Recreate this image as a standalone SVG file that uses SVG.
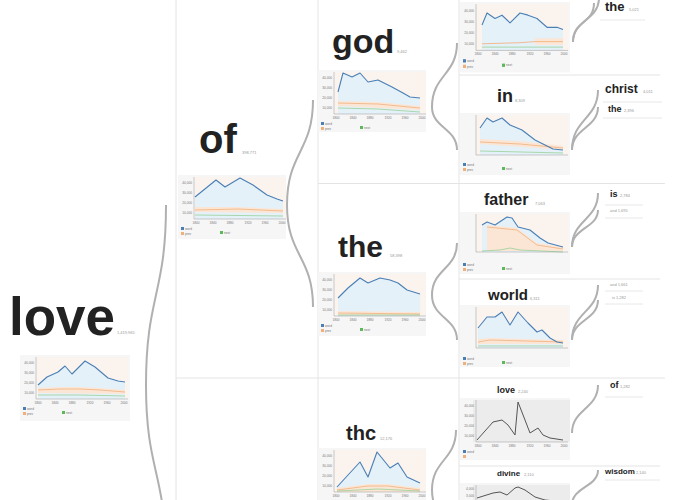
<svg xmlns="http://www.w3.org/2000/svg" xmlns:xlink="http://www.w3.org/1999/xlink" width="680" height="500" viewBox="0 0 680 500">
<style>
.bg{fill:#f6f6f6}
.plot{fill:#fbf3ee}
.gplot{fill:#ececec}
.barea{fill:#e5f1f9}
.band{fill:#fbe6d6}
.bl{fill:none;stroke:#4a7fb5;stroke-width:1.1;stroke-linejoin:round}
.gl{fill:none;stroke:#555;stroke-width:1;stroke-linejoin:round}
.or{fill:none;stroke:#f0b07c;stroke-width:0.8}
.gr{fill:none;stroke:#98d095;stroke-width:0.8}
.ax{fill:none;stroke:#9a9a9a;stroke-width:0.5}
.tk{font-family:"Liberation Sans",Arial,sans-serif;font-size:3.2px;fill:#777}
.w{font-family:"Liberation Sans",Arial,sans-serif;font-weight:bold;fill:#222}
.sub{font-family:"Liberation Sans",Arial,sans-serif;font-size:4px;fill:#999}
.div{stroke:#e4e4e4;stroke-width:1;fill:none}
.sep{stroke:#e2e2e2;stroke-width:0.8;fill:none}
.link{fill:none;stroke:#b0b0b0;stroke-width:2}
</style>
<defs>
<g id="axes">
<path class="ax" d="M16,2V44H108"/>
<g class="tk" text-anchor="end"><text x="14" y="9">40,000</text><text x="14" y="19">30,000</text><text x="14" y="29">20,000</text><text x="14" y="39">10,000</text></g>
<g class="tk" text-anchor="middle"><text x="18" y="48.5">1800</text><text x="35" y="48.5">1840</text><text x="52" y="48.5">1880</text><text x="70" y="48.5">1920</text><text x="87" y="48.5">1960</text><text x="104" y="48.5">2000</text></g>
</g>
<g id="leg">
<rect x="3" y="52" width="3" height="3" fill="#4a7fb5"/><text class="tk" x="7" y="54.6">word</text>
<rect x="3" y="57" width="3" height="3" fill="#f0b07c"/><text class="tk" x="7" y="59.6">prev</text>
<rect x="42" y="56" width="3" height="3" fill="#5cb85c"/><text class="tk" x="46" y="58.6">next</text>
</g>
<g id="leg2">
<rect x="3" y="52" width="3" height="3" fill="#4a7fb5"/><text class="tk" x="7" y="54.6">word</text>
<rect x="3" y="57" width="3" height="3" fill="#f0b07c"/>
</g>
</defs>

<g id="grid">
<line class="div" x1="176" y1="0" x2="176" y2="500"/>
<line class="div" x1="318" y1="0" x2="318" y2="500"/>
<line class="div" x1="459" y1="0" x2="459" y2="500" stroke="#efefef"/>
<line class="div" x1="318" y1="183.5" x2="665" y2="183.5"/>
<line class="div" x1="176" y1="378" x2="665" y2="378"/>
<line class="div" x1="459" y1="75" x2="660" y2="75"/>
<line class="div" x1="459" y1="279" x2="660" y2="279"/>
<line class="div" x1="459" y1="466" x2="660" y2="466"/>
</g>

<g id="connectors">
<path class="link" d="M166,205 C166,295 146,295 146,385 C146,472 166,472 166,560"/>
<path class="link" d="M313,100 C313,152 287,152 287,205 C287,256 313,256 313,307"/>
<path class="link" d="M457,43 C457,75 432,75 432,107 C432,128 457,128 457,150"/>
<path class="link" d="M457,243 C457,269 432,269 432,295 C432,318 457,318 457,340"/>
<path class="link" d="M456,430 C456,460 432,460 432,490 C432,520 456,520 456,550"/>
<path class="link" d="M573,42 C573,20 594,24 594,3"/>
<path class="link" d="M573,42 C573,20 599,20 599,-2"/>
<path class="link" d="M572,150 C572,119 598,119 598,90"/>
<path class="link" d="M572,150 C572,128 598,128 598,107"/>
<path class="link" d="M572,247 C572,220 598,220 598,193"/>
<path class="link" d="M572,247 C572,228 598,228 598,210"/>
<path class="link" d="M572,340 C572,312 598,312 598,285"/>
<path class="link" d="M572,340 C572,320 598,320 598,300"/>
<path class="link" d="M572,433 C572,409 598,409 598,385"/>
<path class="link" d="M572,505 C572,487 598,487 598,470"/>
</g>

<g id="n-love">
<text class="w" x="9" y="335" font-size="53">love</text>
<text class="sub" x="117" y="334">1,419,965</text>
<g transform="translate(20,355)">
<rect class="bg" width="110" height="66"/>
<rect class="plot" x="16" y="2" width="92" height="42"/>
<polygon class="barea" points="18,44 18,30 27,22 38,17 45,11 52,19 65,6 75,12 88,23 98,26 105,27 105,44"/>
<polygon class="band" points="18,33 40,32 60,32 80,33 105,35 105,39 18,38"/>
<polyline class="or" points="18,35 40,34 60,34 80,35 105,37"/>
<polyline class="gr" points="18,40 60,40 105,41"/>
<polyline class="bl" points="18,30 27,22 38,17 45,11 52,19 65,6 75,12 88,23 98,26 105,27"/>
<use xlink:href="#axes"/><use xlink:href="#leg"/>
</g>
</g>

<g id="n-of">
<text class="w" x="199" y="153" font-size="40">of</text>
<text class="sub" x="242" y="154">398,771</text>
<g transform="translate(178,175)">
<rect class="bg" width="108" height="64"/>
<rect class="plot" x="16" y="2" width="92" height="42"/>
<polygon class="barea" points="17,44 17,22 38,5 47,12 62,3 75,10 89,20 99,24 105,26 105,44"/>
<polygon class="band" points="17,32 60,32 105,34 105,38 17,37"/>
<polyline class="or" points="17,35 60,34 105,36"/>
<polyline class="gr" points="17,40 105,41"/>
<polyline class="bl" points="17,22 38,5 47,12 62,3 75,10 89,20 99,24 105,26"/>
<use xlink:href="#axes"/><use xlink:href="#leg"/>
</g>
</g>

<g id="n-god">
<text class="w" x="332" y="53" font-size="34">god</text>
<text class="sub" x="397" y="53">9,462</text>
<g transform="translate(318,70)">
<rect class="bg" width="108" height="62"/>
<rect class="plot" x="16" y="2" width="92" height="42"/>
<polygon class="barea" points="20,44 20,22 25,3 34,7 42,3 50,12 60,10 74,17 85,23 92,27 102,28 102,44"/>
<polygon class="band" points="20,31 60,32 102,36 102,40 20,36"/>
<polyline class="or" points="20,33 60,34 102,38"/>
<polyline class="gr" points="20,38 60,39 102,42"/>
<polyline class="bl" points="20,22 25,3 34,7 42,3 50,12 60,10 74,17 85,23 92,27 102,28"/>
<use xlink:href="#axes"/><use xlink:href="#leg"/>
</g>
</g>

<g id="n-the">
<text class="w" x="338" y="257" font-size="30">the</text>
<text class="sub" x="390" y="257">58,398</text>
<g transform="translate(318,272)">
<rect class="bg" width="108" height="64"/>
<rect class="plot" x="16" y="2" width="92" height="42"/>
<polygon class="barea" points="20,44 20,26 30,16 42,6 50,11 62,6 72,8 80,11 89,18 102,22 102,44"/>
<polygon class="band" points="20,39 102,40 102,43 20,43"/>
<polyline class="or" points="20,41 102,42"/>
<polyline class="gr" points="20,43 102,43"/>
<polyline class="bl" points="20,26 30,16 42,6 50,11 62,6 72,8 80,11 89,18 102,22"/>
<use xlink:href="#axes"/><use xlink:href="#leg"/>
</g>
</g>

<g id="n-thc">
<text class="w" x="346" y="440" font-size="20">thc</text>
<text class="sub" x="380" y="440">12,176</text>
<g transform="translate(318,448)">
<rect class="bg" width="108" height="64"/>
<rect class="plot" x="16" y="2" width="92" height="42"/>
<polygon class="barea" points="19,44 19,39 42,14 50,29 59,4 72,20 80,15 89,29 102,35 102,44"/>
<polygon class="band" points="19,40 50,36 70,36 102,40 102,44 19,44"/>
<polyline class="or" points="19,42 50,38 70,38 102,42"/>
<polyline class="gr" points="19,43 60,41 102,43"/>
<polyline class="bl" points="19,39 42,14 50,29 59,4 72,20 80,15 89,29 102,35"/>
<use xlink:href="#axes"/>
</g>
</g>

<g id="n-top">
<g transform="translate(460,2) scale(1,1.1)">
<rect class="bg" width="110" height="64"/>
<rect class="plot" x="16" y="2" width="92" height="42"/>
<polygon class="barea" points="22,44 22,21 27,10 35,15 42,12 50,19 60,10 68,12 77,15 87,23 97,23 103,25 103,44"/>
<polygon class="band" points="75,33 103,33 103,39 75,39"/>
<polyline class="or" points="22,38 60,37 75,36 103,36"/>
<polyline class="gr" points="22,41 103,41"/>
<polyline class="bl" points="22,21 27,10 35,15 42,12 50,19 60,10 68,12 77,15 87,23 97,23 103,25"/>
<use xlink:href="#axes"/><use xlink:href="#leg"/>
</g>
</g>

<g id="n-in">
<text class="w" x="497" y="102" font-size="18">in</text>
<text class="sub" x="515" y="102">8,309</text>
<g transform="translate(460,113)">
<rect class="bg" width="110" height="62"/>
<rect class="plot" x="16" y="2" width="92" height="40"/>
<polygon class="barea" points="20,42 20,15 27,5 33,9 42,5 50,12 62,17 75,27 85,32 93,36 103,37 103,42"/>
<polygon class="band" points="20,26 60,28 103,33 103,37 20,31"/>
<polyline class="or" points="20,29 60,31 103,35"/>
<polyline class="gr" points="20,38 103,40"/>
<polyline class="bl" points="20,15 27,5 33,9 42,5 50,12 62,17 75,27 85,32 93,36 103,37"/>
<path class="ax" d="M16,2V42H108"/>
<use xlink:href="#leg" transform="translate(0,-2)"/>
</g>
</g>

<g id="n-father">
<text class="w" x="484" y="205" font-size="16">father</text>
<text class="sub" x="535" y="205">7,063</text>
<g transform="translate(460,212)">
<rect class="bg" width="110" height="62"/>
<rect class="plot" x="16" y="2" width="92" height="38"/>
<polygon class="barea" points="22,40 22,13 27,10 35,13 47,5 52,6 58,15 70,18 80,26 88,31 103,35 103,40"/>
<polygon class="band" points="27,13 57,16 77,31 103,35 103,39 27,39"/>
<polyline class="or" points="27,15 57,18 77,33 103,37"/>
<polyline class="gr" points="22,39 40,38 50,36 60,38 103,40"/>
<polyline class="bl" points="22,13 27,10 35,13 47,5 52,6 58,15 70,18 80,26 88,31 103,35"/>
<path class="ax" d="M16,2V40H108"/>
<use xlink:href="#leg" transform="translate(0,-1)"/>
</g>
</g>

<g id="n-world">
<text class="w" x="488" y="300" font-size="15">world</text>
<text class="sub" x="530" y="300">6,311</text>
<g transform="translate(460,305)">
<rect class="bg" width="110" height="62"/>
<rect class="plot" x="16" y="2" width="92" height="41"/>
<polygon class="barea" points="18,43 18,23 27,12 35,12 42,7 50,20 58,7 68,18 77,27 82,25 90,33 97,37 103,38 103,43"/>
<polygon class="band" points="18,34 30,33 103,35 103,39 18,39"/>
<polyline class="or" points="18,37 30,35 103,37"/>
<polyline class="gr" points="18,41 103,41"/>
<polyline class="bl" points="18,23 27,12 35,12 42,7 50,20 58,7 68,18 77,27 82,25 90,33 97,37 103,38"/>
<path class="ax" d="M16,2V43H108"/>
<use xlink:href="#leg"/>
</g>
</g>

<g id="n-love2">
<text class="w" x="497" y="393" font-size="9">love</text>
<text class="sub" x="518" y="393">2,240</text>
<g transform="translate(460,398)">
<rect class="bg" width="110" height="62"/>
<rect class="gplot" x="13" y="2" width="97" height="42"/>
<polyline class="gl" points="17,42 33,24 42,22 48,27 55,37 58,4 65,22 70,35 78,30 83,37 90,40 103,42"/>
<use xlink:href="#axes"/><use xlink:href="#leg2"/>
</g>
</g>

<g id="n-divine">
<text class="w" x="497" y="476" font-size="8">divine</text>
<text class="sub" x="524" y="476">2,110</text>
<g transform="translate(460,483)">
<rect class="bg" width="110" height="30"/>
<rect class="gplot" x="13" y="2" width="97" height="28"/>
<polyline class="gl" points="17,15 33,10 40,9 47,12 55,5 58,4 65,7 75,14 85,17 95,18"/>
<path class="ax" d="M16,2V30"/>
<g class="tk" text-anchor="end"><text x="14" y="7">4,000</text><text x="14" y="14">3,000</text></g>
</g>
</g>

<g id="n-c-the">
<text class="w" x="605" y="11" font-size="13">the</text>
<text class="sub" x="629" y="11">5,021</text>
<line class="sep" x1="600" y1="20" x2="645" y2="20"/>
</g>
<g id="n-c-christ">
<text class="w" x="605" y="93" font-size="12">christ</text>
<text class="sub" x="643" y="93">4,011</text>
<line class="sep" x1="603" y1="102" x2="662" y2="102"/>
</g>
<g id="n-c-the2">
<text class="w" x="608" y="112" font-size="9">the</text>
<text class="sub" x="624" y="112">2,396</text>
<line class="sep" x1="603" y1="118" x2="662" y2="118"/>
</g>
<g id="n-c-is">
<text class="w" x="610" y="197" font-size="9">is</text>
<text class="sub" x="620" y="197">2,784</text>
<line class="sep" x1="605" y1="205" x2="643" y2="205"/>
</g>
<g id="n-c-and">
<text class="sub" x="610" y="212">and 1,695</text>
<line class="sep" x1="605" y1="218" x2="643" y2="218"/>
</g>
<g id="n-c-w1">
<text class="sub" x="610" y="286">and 1,661</text>
<line class="sep" x1="605" y1="291" x2="643" y2="291"/>
</g>
<g id="n-c-w2">
<text class="sub" x="612" y="299">is 1,282</text>
<line class="sep" x1="605" y1="304" x2="643" y2="304"/>
</g>
<g id="n-c-of">
<text class="w" x="610" y="388" font-size="9">of</text>
<text class="sub" x="620" y="388">1,282</text>
<line class="sep" x1="605" y1="397" x2="643" y2="397"/>
</g>
<g id="n-c-wisdom">
<text class="w" x="605" y="474" font-size="8">wisdom</text>
<text class="sub" x="636" y="474">2,140</text>
<line class="sep" x1="605" y1="480" x2="660" y2="480"/>
</g>
</svg>
